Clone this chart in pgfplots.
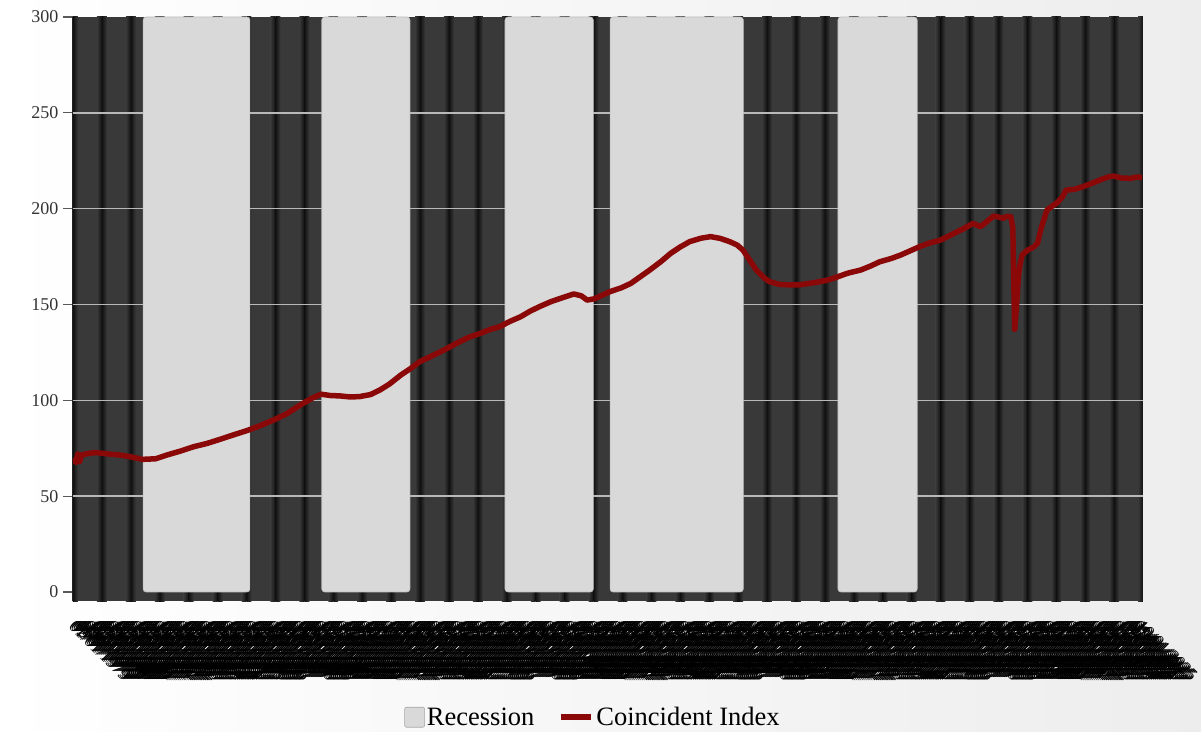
\documentclass[border=0pt]{standalone}
\usepackage{pgfplots}
\usepackage{pgfplotstable}
\pgfplotsset{compat=1.18}
\usepackage{fontspec}
\setmainfont{Liberation Serif}
\usetikzlibrary{backgrounds}
\definecolor{recgray}{RGB}{217,217,217}
\definecolor{recedge}{RGB}{190,190,190}
\definecolor{linered}{RGB}{139,8,8}
\definecolor{gridc}{RGB}{185,185,185}
\definecolor{sd}{RGB}{17,17,17}
\definecolor{sl}{RGB}{57,57,57}
\pgfdeclarehorizontalshading{bgshade}{100bp}{color(0bp)=(white); color(25bp)=(white); color(75bp)=(black!7); color(100bp)=(black!7)}
\newcommand\stripe[2]{%
  \pgfmathsetmacro\sa{#1+2.6}%
  \pgfmathsetmacro\sb{#2-2.6}%
  \pgfmathsetmacro\sc{#1+2.4}%
  \pgfmathsetmacro\sd{#2-2.4}%
  \edef\dostripe{%
    \noexpand\addplot[draw=none, fill=sl, forget plot] coordinates {(\sc,-4.7) (\sc,300) (\sd,300) (\sd,-4.7)} --cycle;
    \noexpand\addplot[draw=none, left color=sd, right color=sl, forget plot] coordinates {(#1,-4.7) (#1,300) (\sa,300) (\sa,-4.7)} --cycle;
    \noexpand\addplot[draw=none, left color=sl, right color=sd, forget plot] coordinates {(\sb,-4.7) (\sb,300) (#2,300) (#2,-4.7)} --cycle;
  }\dostripe}

\pgfplotstableread{
x y
0 70
1 67.5
2 72
3 68
4 71.5
6 72
9 72.5
12 72.7
18 72
24 71.5
30 70.5
36 69.2
43 69.5
49 71.5
56 73.5
63 75.8
70 77.5
77 79.7
84 82
91 84.2
98 86.8
105 89.7
112 93
119 97.5
125 101
130 103.2
135 102.5
140 102.3
145 101.8
150 101.9
156 103
161 105.4
166 108.5
172 113.2
177 116.5
182 120.2
188 123
193 125.4
198 128
203 130.6
208 133
214 135
219 137
224 138.4
229 141
235 143.6
240 146.5
245 148.9
251 151.5
256 153.2
263 155.5
267 154.5
270 152.3
274 153
277 154.4
282 156.7
288 158.7
293 161
298 164.5
303 168
309 172.5
314 176.7
319 180
324 182.8
330 184.6
335 185.4
340 184.5
345 182.8
349 181
352 178.4
356 172.5
359 168
363 164
366 161.9
371 160.5
377 160.2
382 160.3
387 161
393 162
398 163.1
402 164.5
407 166.3
414 168
419 170
424 172.3
430 174
435 175.8
440 178
445 180.2
450 182
456 183.6
463 187.1
468 189.5
470 190.6
473 192.3
477 190.6
480 193
484 196.2
487 195.5
489 195
491 196
493 195.8
494 190
495 137
496 150
497 165
498 172
499 176
502 178.5
505 180
507 182
509 190
512 199.3
515 201.5
517 202.8
520 206
522 209.7
526 210
531 211.5
535 213
540 215
544 216.5
547 217
551 216
556 215.8
559 216.5
562 216.3
}\coincident

\begin{document}
\begin{tikzpicture}
\begin{axis}[
  scale only axis, width=1070pt, height=584pt,
  xmin=-0.5, xmax=562.5, ymin=-4.7, ymax=300,
  separate axis lines,
  axis x line*=bottom, axis y line*=left,
  x axis line style={draw=none},
  y axis line style={draw=black!85, line width=1.5pt},
  ytick={0,50,...,300},
  tick align=outside, major tick length=10pt,
  ytick style={draw=black!65, line width=1.2pt},
  yticklabel style={font=\fontsize{18}{18}\selectfont, text=black!80, xshift=-1pt},
  /pgf/number format/assume math mode=true,
  xtick={0,...,562},
  xtick style={draw=none},
  xticklabel={\pgfmathtruncatemacro\yr{1979+floor(\tick/12)}\pgfmathtruncatemacro\mo{mod(\tick,12)+1}\ifnum\mo<10 0\fi\mo/01/\yr},
  xticklabel style={rotate=-45, anchor=north west, font=\fontsize{17}{17}\selectfont, inner sep=0pt, yshift=-4pt, xshift=7pt, text=black},
  legend style={at={(0.486,-0.199)}, anchor=center, draw=none, fill=none,
    legend columns=-1, font=\fontsize{26.5}{26.5}\selectfont,
    /tikz/every even column/.append style={column sep=22pt}},
]
% dark striped background
\addplot[draw=none, fill=sd, forget plot] coordinates {(-0.5,-4.7) (-0.5,300) (562.5,300) (562.5,-4.7)} --cycle;
\stripe{-0.5}{14.716}
\stripe{14.716}{29.932}
\stripe{29.932}{45.149}
\stripe{45.149}{60.365}
\stripe{60.365}{75.581}
\stripe{75.581}{90.797}
\stripe{90.797}{106.013}
\stripe{106.013}{121.230}
\stripe{121.230}{136.446}
\stripe{136.446}{151.662}
\stripe{151.662}{166.878}
\stripe{166.878}{182.094}
\stripe{182.094}{197.311}
\stripe{197.311}{212.527}
\stripe{212.527}{227.743}
\stripe{227.743}{242.959}
\stripe{242.959}{258.175}
\stripe{258.175}{273.392}
\stripe{273.392}{288.608}
\stripe{288.608}{303.824}
\stripe{303.824}{319.040}
\stripe{319.040}{334.256}
\stripe{334.256}{349.473}
\stripe{349.473}{364.689}
\stripe{364.689}{379.905}
\stripe{379.905}{395.121}
\stripe{395.121}{410.337}
\stripe{410.337}{425.554}
\stripe{425.554}{440.770}
\stripe{440.770}{455.986}
\stripe{455.986}{471.202}
\stripe{471.202}{486.418}
\stripe{486.418}{501.635}
\stripe{501.635}{516.851}
\stripe{516.851}{532.067}
\stripe{532.067}{547.283}
\stripe{547.283}{562.5}
% grid lines
\pgfplotsinvokeforeach{50,100,150,200,250}{
  \addplot[gridc, line width=1.6pt, forget plot] coordinates {(-0.5,#1) (562.5,#1)};
}
% recession bars
\addplot[fill=recgray, draw=recedge, line width=0.6pt, rounded corners=3pt,
  legend image code/.code={\draw[fill=recgray, draw=gray!70, rounded corners=2pt] (0pt,-10pt) rectangle (20pt,10pt);}]
  coordinates {(36.4,0) (36.4,300) (92.6,300) (92.6,0)} --cycle;
\addlegendentry{Recession}
\addplot[fill=recgray, draw=recedge, line width=0.6pt, rounded corners=3pt, forget plot]
  coordinates {(130.4,0) (130.4,300) (176.8,300) (176.8,0)} --cycle;
\addplot[fill=recgray, draw=recedge, line width=0.6pt, rounded corners=3pt, forget plot]
  coordinates {(226.8,0) (226.8,300) (273.3,300) (273.3,0)} --cycle;
\addplot[fill=recgray, draw=recedge, line width=0.6pt, rounded corners=3pt, forget plot]
  coordinates {(282.1,0) (282.1,300) (352.2,300) (352.2,0)} --cycle;
\addplot[fill=recgray, draw=recedge, line width=0.6pt, rounded corners=3pt, forget plot]
  coordinates {(402.0,0) (402.0,300) (443.7,300) (443.7,0)} --cycle;
% coincident index
\addplot[linered, line width=5.5pt, line join=round,
  legend image code/.code={\draw[line width=6pt, linered] (0pt,0pt) -- (30pt,0pt);}]
  table[x=x,y=y] {\coincident};
\addlegendentry{Coincident Index}
\end{axis}
\begin{scope}[on background layer]
\fill[shading=bgshade] (-73pt,-130pt) rectangle (1128pt,601pt);
\end{scope}
\pgfresetboundingbox
\path[use as bounding box] (-73pt,-130pt) rectangle (1128pt,601pt);
\end{tikzpicture}
\end{document}
